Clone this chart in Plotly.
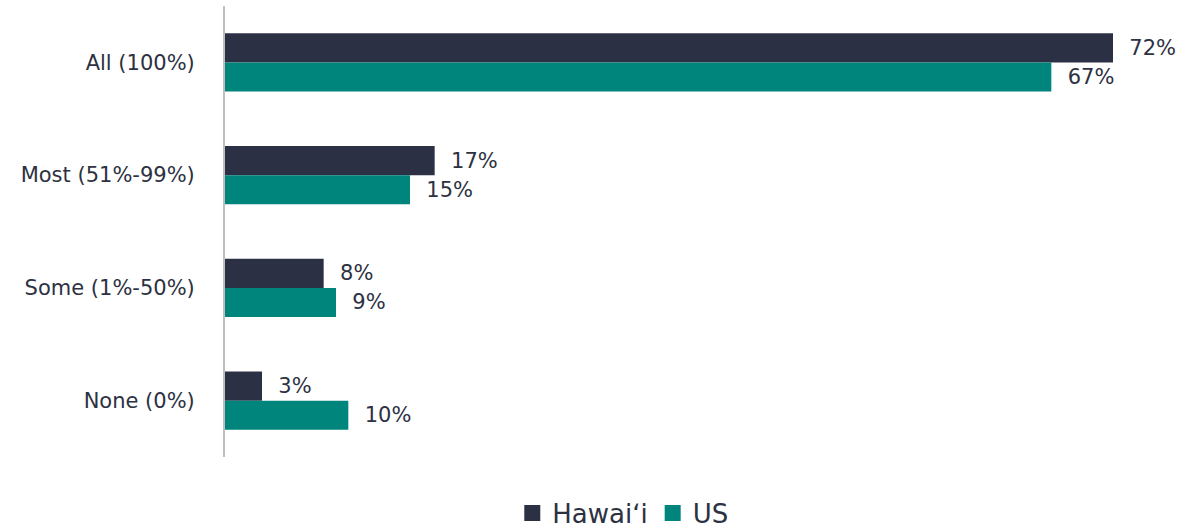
import plotly.graph_objects as go

categories = ["All (100%)", "Most (51%-99%)", "Some (1%-50%)", "None (0%)"]
hawaii = [72, 17, 8, 3]
us = [67, 15, 9, 10]

series_names = ["Hawai\u02bbi", "US"]
series_colors = ["#2c3044", "#00857c"]

text_color = "#2d3142"
font_family = "'DejaVu Sans', sans-serif"

fig = go.Figure()
for name, values, color in zip(series_names, [hawaii, us], series_colors):
    fig.add_trace(go.Bar(
        y=categories, x=values, name=name, orientation="h",
        marker=dict(color=color, line=dict(width=0)),
        texttemplate="  %{x}%", textposition="outside",
        textfont=dict(size=21, color=text_color, family=font_family),
        cliponaxis=False, showlegend=False,
    ))

# legend entries with larger square swatches
for name, color in zip(series_names, series_colors):
    fig.add_trace(go.Scatter(
        x=[None], y=[None], mode="markers", name=name,
        marker=dict(symbol="square", size=20, color=color),
        showlegend=True,
    ))

fig.update_layout(
    width=1184, height=529,
    margin=dict(l=225, r=34, t=6, b=72),
    barmode="group", bargap=0.485, bargroupgap=0,
    plot_bgcolor="white", paper_bgcolor="white",
    font=dict(family=font_family, color=text_color, size=21),
    showlegend=True,
    legend=dict(
        orientation="h", xref="container", yref="container",
        x=0.526, y=0.03, xanchor="center", yanchor="middle",
        font=dict(size=26, color=text_color), itemwidth=30,
    ),
    xaxis=dict(range=[0, 75], visible=False, showgrid=False, zeroline=False),
    yaxis=dict(
        autorange="reversed", showline=True, linecolor="#bfbfbf", linewidth=2,
        ticks="", ticklabelstandoff=24, showgrid=False,
        tickfont=dict(size=21, color=text_color),
    ),
)

fig.write_html("out.html")
